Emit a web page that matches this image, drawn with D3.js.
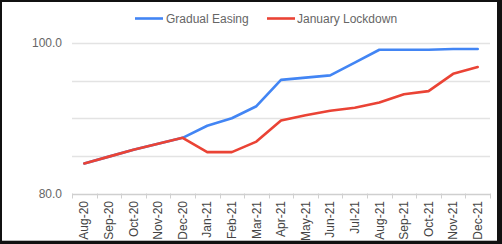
<!DOCTYPE html>
<html>
<head>
<meta charset="utf-8">
<script src="https://cdn.jsdelivr.net/npm/d3@7"></script>
<style>
  html, body { margin: 0; padding: 0; background: #fff; }
  svg { display: block; }
  text { font-family: "Liberation Sans", Arial, sans-serif; }
</style>
</head>
<body>
<svg id="chart" width="502" height="244"></svg>
<script>
const months = ["Aug-20","Sep-20","Oct-20","Nov-20","Dec-20","Jan-21","Feb-21","Mar-21","Apr-21","May-21","Jun-21","Jul-21","Aug-21","Sep-21","Oct-21","Nov-21","Dec-21"];
const gradualEasing = [84.0, 84.9, 85.8, 86.6, 87.4, 89.0, 90.0, 91.6, 95.1, 95.4, 95.7, 97.4, 99.1, 99.1, 99.1, 99.2, 99.2];
const januaryLockdown = [84.0, 84.9, 85.8, 86.6, 87.4, 85.5, 85.5, 86.9, 89.7, 90.4, 91.0, 91.4, 92.1, 93.2, 93.6, 95.9, 96.8];
const yTicks = [80, 85, 90, 95, 100];
const yLabelTicks = [80, 100];
const seriesNames = ["Gradual Easing", "January Lockdown"];
const seriesColors = ["#4285f4", "#ea4335"];

(function () {
const svg = d3.select("#chart");

// frame
svg.append("rect").attr("x", 0).attr("y", 0).attr("width", 502).attr("height", 244).attr("fill", "#111");
svg.append("rect").attr("x", 2).attr("y", 2).attr("width", 495).attr("height", 239).attr("fill", "#fff");
svg.append("line").attr("x1", 2).attr("x2", 497).attr("y1", 240.5).attr("y2", 240.5).attr("stroke", "#bbb").attr("stroke-width", 1);

const pl = 72, pr = 490, pt = 43, pb = 193.5;
const x = d3.scaleBand().domain(months).range([pl, pr]).padding(0);
const y = d3.scaleLinear().domain([80, 100]).range([pb, pt]);

// gridlines
svg.append("g").selectAll("line").data(yTicks).join("line")
  .attr("x1", pl).attr("x2", pr)
  .attr("y1", d => Math.round(y(d)) + 0.5).attr("y2", d => Math.round(y(d)) + 0.5)
  .attr("stroke", d => d === 80 ? "#cfcfcf" : "#e3e3e3").attr("stroke-width", 1.3);

// y labels
svg.append("g").selectAll("text").data(yLabelTicks).join("text")
  .attr("x", 62).attr("y", d => y(d)).attr("dy", "0.35em")
  .attr("text-anchor", "end").attr("font-size", 12).attr("fill", "#666")
  .text(d => d.toFixed(1));

// x axis ticks
const bounds = months.map(m => x(m)).concat([pr]);
svg.append("g").selectAll("line").data(bounds).join("line")
  .attr("x1", d => Math.round(d) + 0.5).attr("x2", d => Math.round(d) + 0.5)
  .attr("y1", pb).attr("y2", pb + 5)
  .attr("stroke", "#d0d0d0").attr("stroke-width", 1);

// x labels
svg.append("g").selectAll("text").data(months).join("text")
  .attr("transform", d => `translate(${x(d) + x.bandwidth() / 2},201) rotate(-90)`)
  .attr("dy", "0.35em").attr("text-anchor", "end")
  .attr("font-size", 12).attr("fill", "#444")
  .text(d => d);

// lines
const line = d3.line().x((d, i) => x(months[i]) + x.bandwidth() / 2).y(d => y(d));
[gradualEasing, januaryLockdown].forEach((s, k) => {
  svg.append("path").datum(s).attr("d", line)
    .attr("fill", "none").attr("stroke", seriesColors[k]).attr("stroke-width", 2.6)
    .attr("stroke-linejoin", "round").attr("stroke-linecap", "round");
});

// legend
const legendPos = [{lx: 135, tx: 166}, {lx: 267, tx: 297}];
seriesNames.forEach((n, k) => {
  svg.append("line").attr("x1", legendPos[k].lx).attr("x2", legendPos[k].lx + 28)
    .attr("y1", 18.5).attr("y2", 18.5).attr("stroke", seriesColors[k]).attr("stroke-width", 2.6);
  svg.append("text").attr("x", legendPos[k].tx).attr("y", 18.5).attr("dy", "0.35em")
    .attr("font-size", 12).attr("fill", "#666").text(n);
});
})();
</script>
</body>
</html>
